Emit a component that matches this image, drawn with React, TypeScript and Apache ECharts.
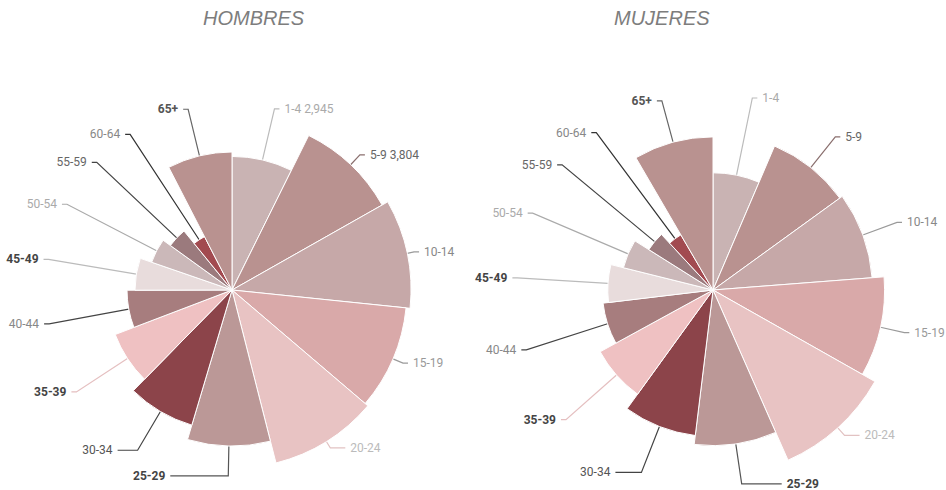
import React, { useEffect, useRef } from 'react';
import * as echarts from 'echarts';

const categories = ['1-4', '5-9', '10-14', '15-19', '20-24', '25-29', '30-34', '35-39', '40-44', '45-49', '50-54', '55-59', '60-64', '65+'];
const hombresValues = [2945, 3804, 3947, 3859, 3936, 3440, 3109, 2756, 2315, 2139, 1874, 1676, 1323, 3043];
const mujeresValues = [2591, 3462, 3528, 3793, 4112, 3440, 3241, 2844, 2448, 2326, 2040, 1676, 1411, 3385];
const sliceColors = ['#c9b3b3', '#b99290', '#c6a8a8', '#d9a9a9', '#e8c3c3', '#bb9897', '#8c444a', '#efc1c2', '#a77d7e', '#e8dcdc', '#cbb8b9', '#9b7a7d', '#a24a50', '#b99290'];
const labelColors = ['#aaaaaa', '#666666', '#888888', '#999999', '#bbbbbb', '#444444', '#555555', '#444444', '#888888', '#444444', '#aaaaaa', '#666666', '#888888', '#555555'];
const labelLineColors = ['#bbbbbb', '#8a6f6e', '#9a9a9a', '#9a9a9a', '#e2c2c2', '#555555', '#444444', '#e5bfc0', '#444444', '#bbbbbb', '#aaaaaa', '#444444', '#333333', '#666666'];
const boldLabels = ['65+', '25-29', '35-39', '45-49'];
const hombresValueLabels = ['1-4', '5-9'];
const titles = ['HOMBRES', 'MUJERES'];

// horizontal tail length of each label line (styling)
const hombresTails = [5, 5, 5, 5, 15, 58, 20, 5, 5, 5, 5, 5, 5, 5];
const mujeresTails = [5, 5, 5, 5, 15, 40, 26, 5, 5, 5, 5, 5, 5, 5];

function buildData(values: number[], tails: number[]) {
  return categories.map((c, i) => ({
    name: c,
    value: values[i],
    itemStyle: { color: sliceColors[i] },
    label: { color: labelColors[i], fontWeight: boldLabels.includes(c) ? 'bold' : 'normal' },
    labelLine: { length2: tails[i], lineStyle: { color: labelLineColors[i] } },
  }));
}

export default function App() {
  const ref = useRef<HTMLDivElement>(null);
  useEffect(() => {
    if (!ref.current) return;
    const chart = echarts.init(ref.current, null, { renderer: 'svg' });
    const common = {
      type: 'pie',
      roseType: 'radius',
      startAngle: 90,
      clockwise: true,
      avoidLabelOverlap: false,
      label: {
        show: true,
        position: 'outside',
        fontFamily: 'Roboto',
        fontSize: 12,
      },
      itemStyle: { borderColor: '#ffffff', borderWidth: 1 },
      emphasis: { disabled: true },
    };
    const titleStyle = { fontFamily: 'Liberation Sans', fontStyle: 'italic', fontWeight: 'normal', fontSize: 20, color: '#7d7d7d' };
    chart.setOption({
      animation: false,
      backgroundColor: '#ffffff',
      title: [
        { text: titles[0], left: 203, top: 8, padding: 0, textStyle: titleStyle },
        { text: titles[1], left: 614, top: 8, padding: 0, textStyle: titleStyle },
      ],
      series: [
        {
          ...common,
          name: titles[0],
          center: [232, 290],
          radius: [0, 179],
          label: {
            ...common.label,
            formatter: (p: any) =>
              hombresValueLabels.includes(p.name) ? `${p.name} ${Number(p.value).toLocaleString('en-US')}` : p.name,
          },
          labelLine: { show: true, length: 7, length2: 5, lineStyle: { width: 1.2 } },
          data: buildData(hombresValues, hombresTails),
        },
        {
          ...common,
          name: titles[1],
          center: [713, 290],
          radius: [0, 186],
          label: { ...common.label, formatter: '{b}' },
          labelLine: { show: true, length: 10, length2: 5, lineStyle: { width: 1.2 } },
          data: buildData(mujeresValues, mujeresTails),
        },
      ],
    });
    return () => chart.dispose();
  }, []);
  return <div ref={ref} style={{ position: 'fixed', left: 0, top: 0, width: 946, height: 490 }} />;
}
